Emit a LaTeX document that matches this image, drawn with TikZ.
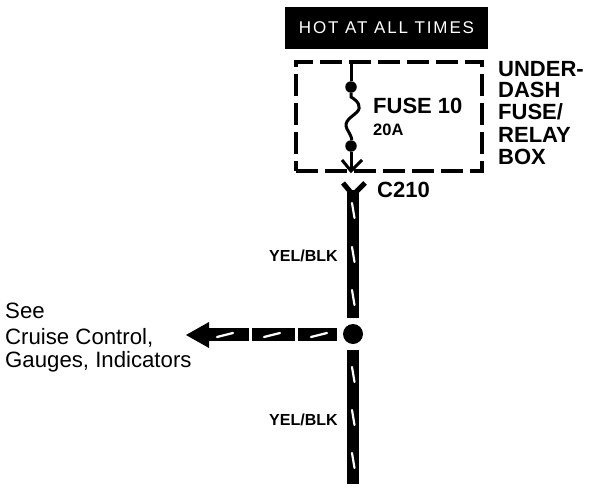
\documentclass[tikz,border=0pt]{standalone}
\usepackage{fontspec}
\setmainfont{Liberation Sans}
\begin{document}
\begin{tikzpicture}[x=1pt,y=-1pt,
  boldlabel/.style={font=\bfseries\fontsize{22}{22}\selectfont,anchor=base west,inner sep=0pt,text=black},
  smalllabel/.style={font=\bfseries\fontsize{16}{16}\selectfont,anchor=base west,inner sep=0pt,text=black},
  plainlabel/.style={font=\fontsize{22.2}{22.2}\selectfont,anchor=base west,inner sep=0pt,text=black},
  wire/.style={line width=11.5pt,draw=black},
  stripe/.style={line width=2.2pt,draw=white,line cap=round},
  thin wire/.style={line width=3pt,draw=black},
  terminal/.style={circle,fill=black,minimum size=11.5pt,inner sep=0pt},
  forkline/.style={line width=3pt,draw=black}]
\useasboundingbox (0,0) rectangle (608,490);
% banner
\node[fill=black,text=white,minimum width=203pt,minimum height=42pt,inner sep=0pt,
  font=\fontsize{17}{17}\selectfont\addfontfeature{LetterSpace=11}] (hot) at (386.5,27.5) {HOT AT ALL TIMES};
% dashed box
\node[draw=black,line width=3.4pt,dash pattern=on 22pt off 7pt,minimum width=186pt,minimum height=109pt,inner sep=0pt] (box) at (389,116.5) {};
% fuse
\coordinate (fusetop) at (351,62);
\node[terminal] (t1) at (351,87) {};
\node[terminal] (t2) at (351,146) {};
\coordinate (fork) at (351,171);
\draw[thin wire] (fusetop) -- (t1);
\draw[thin wire] (t1) -- (351,97) .. controls (358,101) and (362,107) .. (357,112)
  .. controls (352,117) and (343,121) .. (347,129) .. controls (350,134) and (352,138) .. (t2);
\draw[thin wire] (t2) -- (fork);
\coordinate (forkl) at (342,160);
\coordinate (forkr) at (362,160);
\draw[forkline] (forkl) -- (fork) -- (forkr);
% connector
\coordinate (c210) at (353,195);
\coordinate (cl) at (343,183);
\coordinate (cr) at (365,183);
\draw[line width=5pt,draw=black] (cl) -- (c210) -- (cr);
% junction and wires
\node[circle,fill=black,minimum size=20pt,inner sep=0pt] (junction) at (353,334) {};
\coordinate (uppertop) at (353,190);
\coordinate (upperend) at (353,318);
\coordinate (lowerstart) at (353,350);
\coordinate (lowerend) at (353,484);
\draw[wire] (uppertop) -- (upperend);
\draw[wire] (lowerstart) -- (lowerend);
\foreach \a in {203,247,290,367,410,453}
  \draw[stripe] (352,\a) -- (354.5,\a+15);
% horizontal wire
\coordinate (h1) at (337,334.5);
\coordinate (h2) at (298,334.5);
\coordinate (h3) at (295,334.5);
\coordinate (h4) at (252,334.5);
\coordinate (h5) at (249,334.5);
\coordinate (h6) at (208,334.5);
\coordinate (tip) at (186,335);
\draw[line width=12.5pt,draw=black] (h1) -- (h2);
\draw[line width=12.5pt,draw=black] (h3) -- (h4);
\draw[line width=12.5pt,draw=black] (h5) -- (h6);
\fill[black] (tip) -- (209,322) -- (209,348) -- cycle;
\foreach \a in {217,264,311}
  \draw[stripe] (\a,337) -- (\a+16,333);
% labels
\node[boldlabel] (fuse) at (373,113) {FUSE 10};
\node[smalllabel,font=\bfseries\fontsize{16.5}{16.5}\selectfont] (amp) at (373,135) {20A};
\node[boldlabel] (b1) at (498,76) {UNDER-};
\node[boldlabel] (b2) at (498,97) {DASH};
\node[boldlabel] (b3) at (498,119) {FUSE/};
\node[boldlabel] (b4) at (498,142) {RELAY};
\node[boldlabel] (b5) at (498,164) {BOX};
\node[boldlabel] (c) at (377,197) {C210};
\node[smalllabel] (y1) at (269,261) {YEL/BLK};
\node[smalllabel] (y2) at (269,425) {YEL/BLK};
\node[plainlabel] (s1) at (5,318) {See};
\node[plainlabel] (s2) at (5,344) {Cruise Control,};
\node[plainlabel] (s3) at (5,367) {Gauges, Indicators};
\end{tikzpicture}
\end{document}
